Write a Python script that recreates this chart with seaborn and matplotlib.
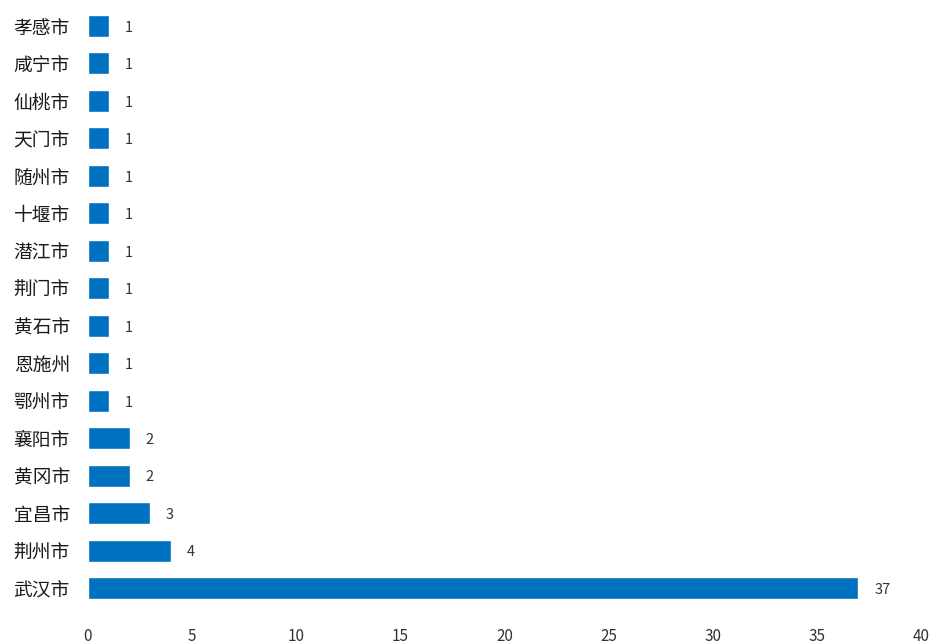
import pandas as pd
import matplotlib
matplotlib.use("Agg")
import matplotlib.pyplot as plt
import seaborn as sns

cities = ["孝感市", "咸宁市", "仙桃市", "天门市", "随州市", "十堰市", "潜江市", "荆门市",
          "黄石市", "恩施州", "鄂州市", "襄阳市", "黄冈市", "宜昌市", "荆州市", "武汉市"]
counts = [1, 1, 1, 1, 1, 1, 1, 1, 1, 1, 1, 2, 2, 3, 4, 37]
xticks = [0, 5, 10, 15, 20, 25, 30, 35, 40]

sns.set_theme(style="white")
plt.rcParams['font.family'] = ['Noto Sans CJK SC', 'DejaVu Sans']

df = pd.DataFrame({"city": cities, "count": counts})

fig = plt.figure(figsize=(9.35, 6.44), dpi=100)
ax = fig.add_axes([0.094, 0.0578, 0.891, 0.931])
sns.barplot(data=df, x="count", y="city", orient="h", color="#0070C0",
            saturation=1, width=0.59, ax=ax)

# value labels to the right of each bar
for i, v in enumerate(counts):
    ax.text(v + 0.75, i + 0.05, str(v), va="center", ha="left", fontsize=10.5, color="#333333")

ax.set_xlim(0, 40)
ax.set_ylim(15.5, -0.5)
ax.set_xticks(xticks)
ax.set_xticklabels([str(t) for t in xticks], fontsize=11, color="#333333")
ax.tick_params(axis="x", length=0, pad=15)
ax.tick_params(axis="y", length=0, pad=13, labelsize=13.5, labelcolor="#1a1a1a")
ax.set_xlabel("")
ax.set_ylabel("")
sns.despine(ax=ax, left=True, bottom=True)

fig.savefig("out.png", dpi=100)
